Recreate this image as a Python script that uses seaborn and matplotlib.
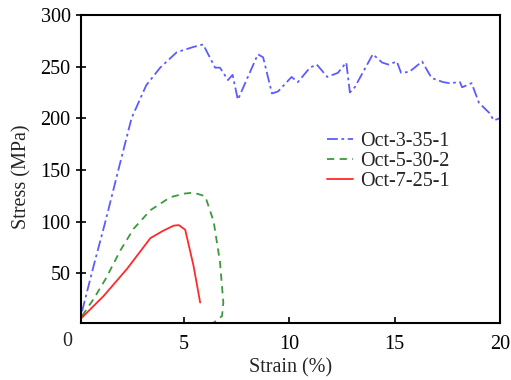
import numpy as np
import pandas as pd
import seaborn as sns
import matplotlib
matplotlib.use("Agg")
import matplotlib.pyplot as plt

# curves
blue_x = [0.15, 0.7, 1.26, 1.9, 2.5, 3.2, 3.86, 4.65, 5.43, 5.9, 6.47, 6.7, 7.08, 7.3, 7.55,
          8.5, 8.75, 9.17, 9.46, 10.1, 10.4, 10.97, 11.3, 11.8, 12.3, 12.7, 12.87, 13.1,
          13.96, 14.4, 14.7, 15.1, 15.3, 15.7, 16.3, 16.75, 17.3, 17.6, 18.1, 18.2, 18.65,
          19.0, 19.5, 19.7, 20.0]
blue_y = [13, 57, 100, 152, 200, 232, 249, 264, 269, 271.5, 249, 249, 237, 242, 218,
          262, 259, 224, 226, 240, 235, 249, 252, 240, 244, 254, 225, 230,
          262, 254, 252, 255, 244, 245, 255, 239, 235, 234, 235, 230, 234,
          215, 205, 198, 200]

green_x = [0.15, 0.7, 1.26, 1.97, 2.6, 3.4, 4.34, 5.0, 5.44, 6.0, 6.4, 6.7, 6.86, 6.8, 6.4]
green_y = [8.5, 25, 44, 72, 93, 111, 123.5, 127, 128, 124.5, 100, 61, 21.5, 8.5, 2]

red_x = [0.15, 1.18, 2.28, 3.4, 4.0, 4.5, 4.75, 5.05, 5.44, 5.76]
red_y = [7, 28, 54, 84, 91, 96, 96.5, 92, 57.5, 21.5]

labels = ["Oct-3-35-1", "Oct-5-30-2", "Oct-7-25-1"]
x_ticks = [5, 10, 15, 20]
y_ticks = [50, 100, 150, 200, 250, 300]

sns.set_style("ticks")
plt.rcParams["font.family"] = ["Liberation Serif", "DejaVu Serif"]

fig = plt.figure(figsize=(5.11, 3.8), dpi=100)
ax = fig.add_axes([0.1585, 0.1508, 0.82, 0.8097])

series = [(blue_x, blue_y, "#5c5cff", (0, (6, 2, 1.5, 2))),
          (green_x, green_y, "#3a9a3a", (0, (4, 3))),
          (red_x, red_y, "#ff2a2a", "-")]
for (xs, ys, col, ls), lab in zip(series, labels):
    df = pd.DataFrame({"x": xs, "y": ys})
    sns.lineplot(data=df, x="x", y="y", sort=False, estimator=None, ax=ax,
                 color=col, linestyle=ls, linewidth=1.3, label=lab)

ax.set_xlim(0.1, 20)
ax.set_ylim(2, 300)
ax.set_xticks(x_ticks)
ax.set_yticks(y_ticks)
ax.tick_params(axis="x", direction="in", length=4, width=1.2, labelsize=14.5,
               colors="black", pad=9, top=False)
ax.tick_params(axis="y", direction="inout", length=7, width=1.2, labelsize=14.5,
               colors="black", pad=4, right=False)
for s in ax.spines.values():
    s.set_linewidth(1.5)
    s.set_color("black")
ax.text(-0.033, -0.06, "0", transform=ax.transAxes, ha="center", va="center", fontsize=14.5)

ax.set_xlabel("Strain (%)", fontsize=14.5, labelpad=3)
ax.set_ylabel("Stress (MPa)", fontsize=14.5)
ax.yaxis.set_label_coords(-0.117, 0.475)

ax.legend(loc="upper left", bbox_to_anchor=(0.568, 0.647), frameon=False, fontsize=14.5,
          handlelength=1.3, handletextpad=0.35, labelspacing=0.05, borderaxespad=0)

fig.savefig("out.png", dpi=100)
